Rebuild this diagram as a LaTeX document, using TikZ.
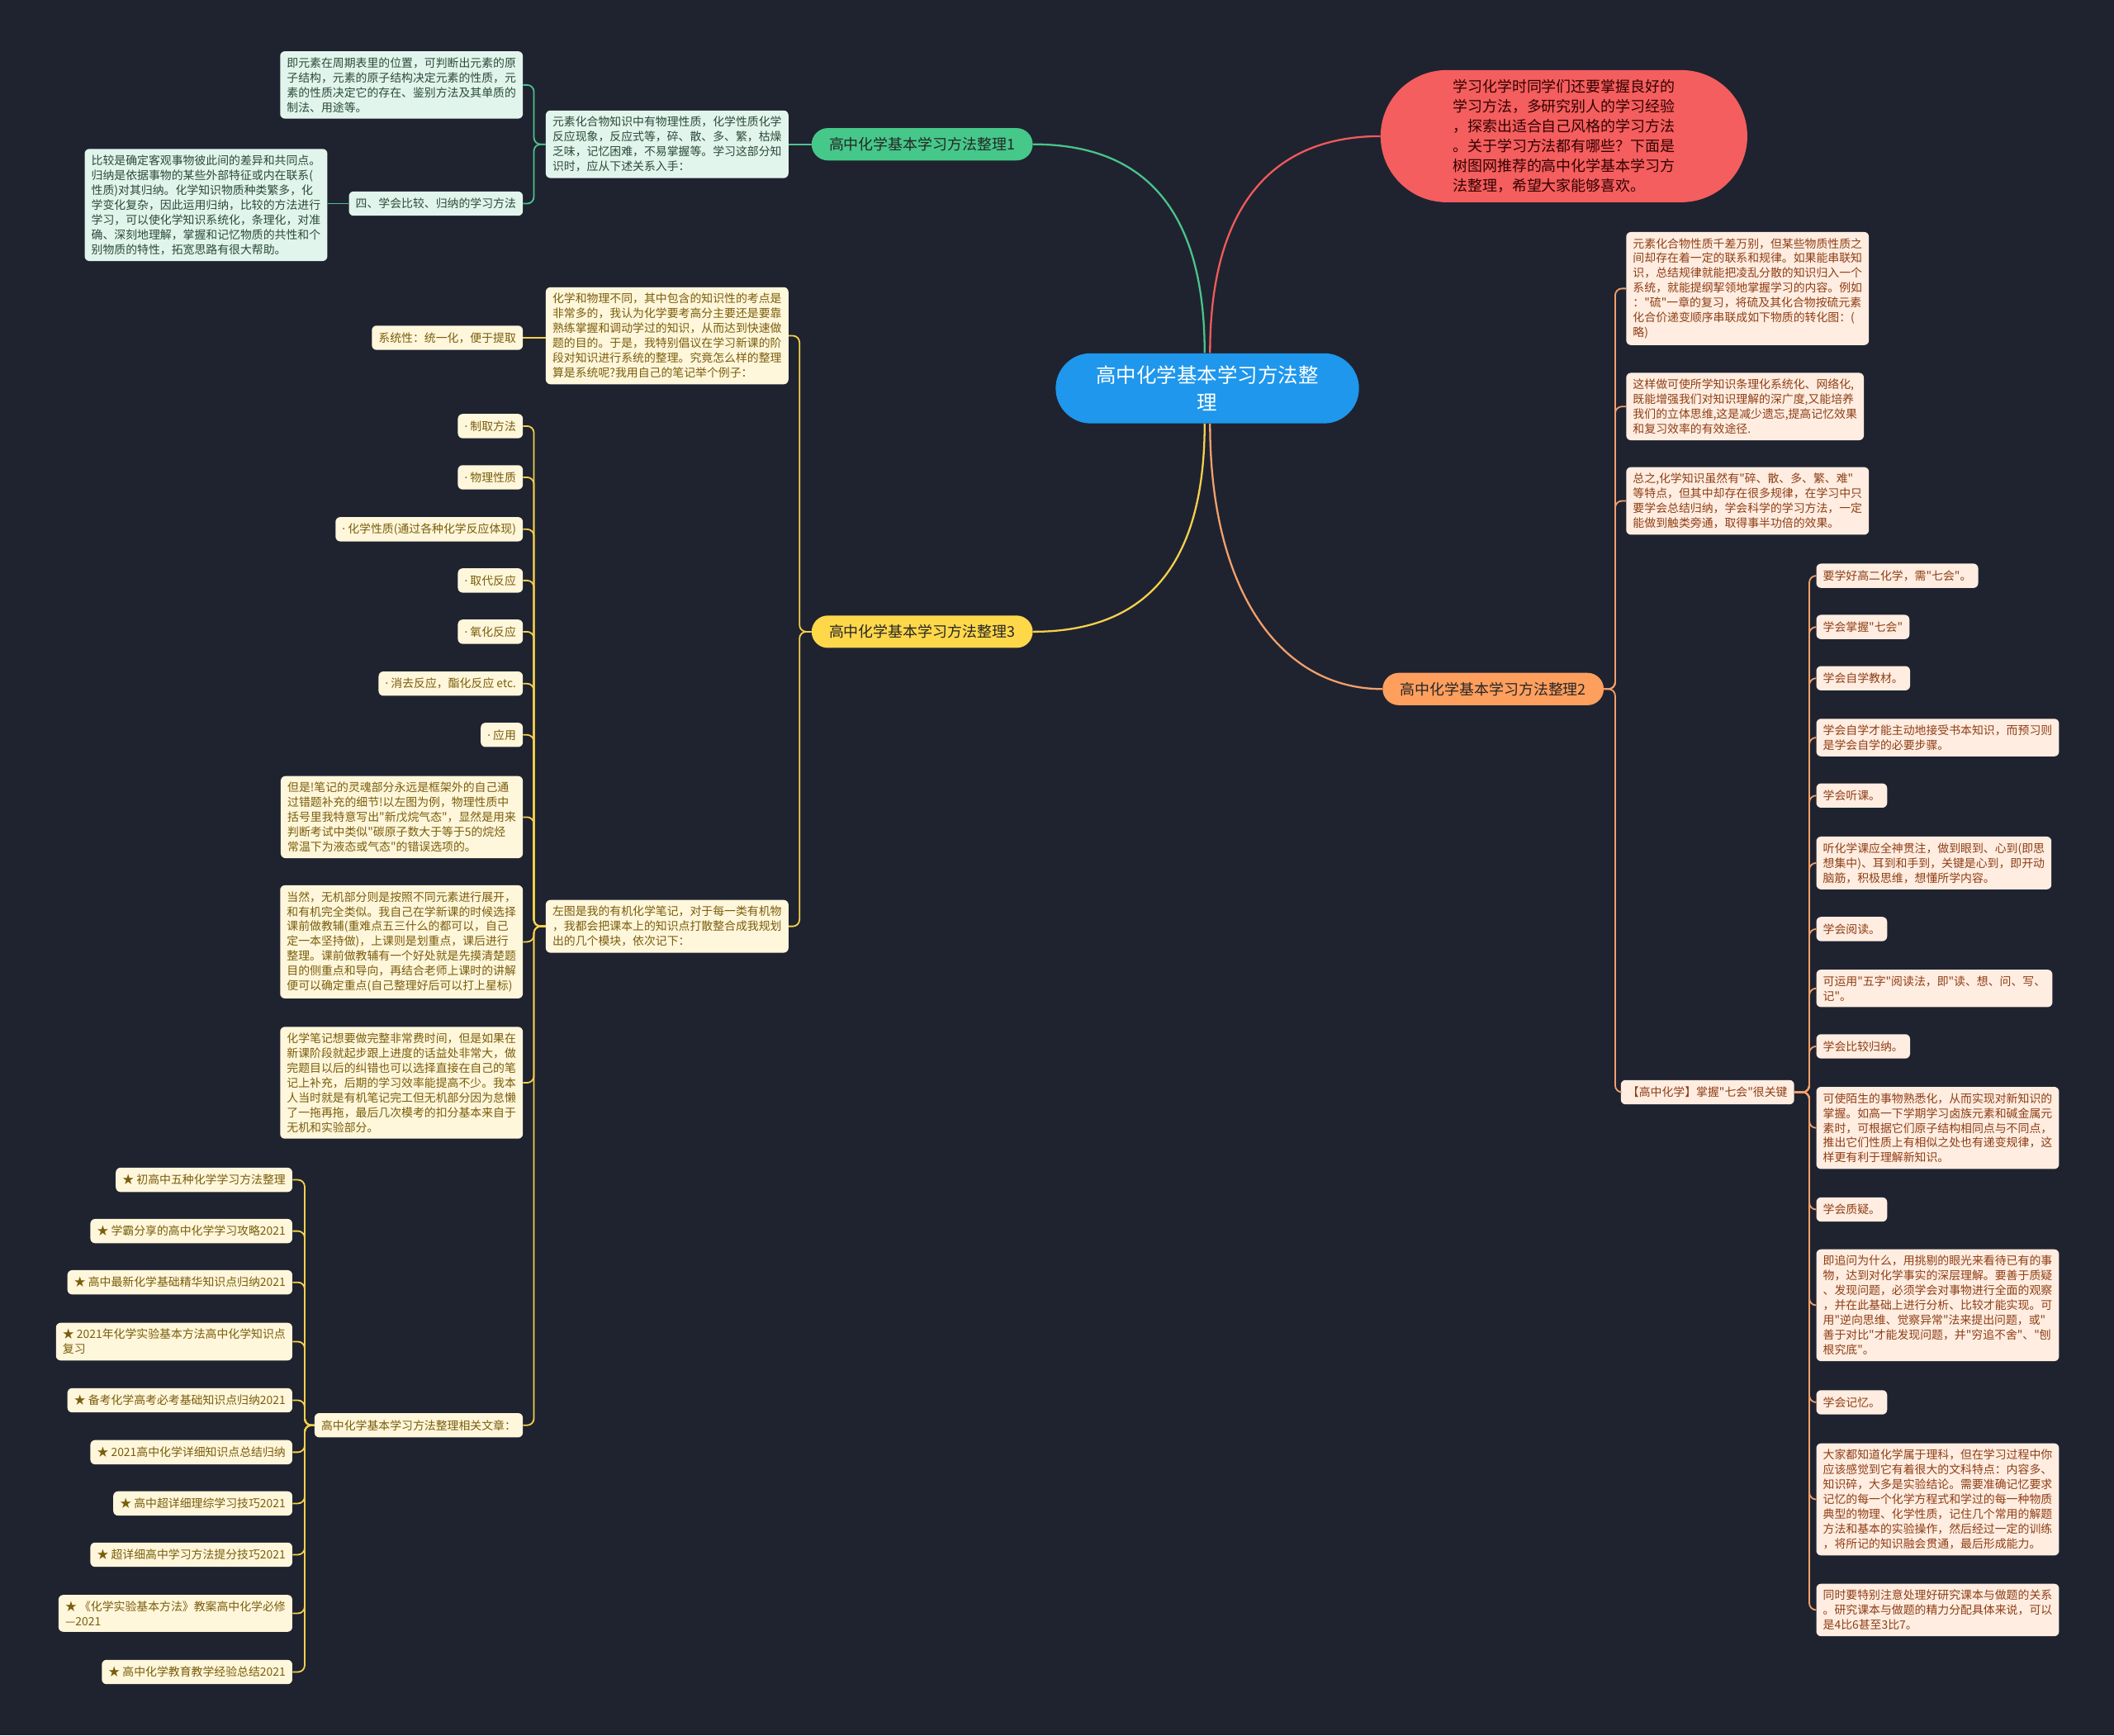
\documentclass[tikz,border=0pt]{standalone}
\usepackage{fontspec}
\setmainfont{Noto Sans CJK SC}[Ligatures=TeXOff]
\newfontfamily\dotfont{Noto Sans}
\newcommand{\mydot}{{\dotfont ·}}
\definecolor{bg}{HTML}{1F2330}
\definecolor{cblue}{HTML}{1E97EC}
\definecolor{cred}{HTML}{F45E5E}
\definecolor{gline}{HTML}{4BC38A}
\definecolor{gfill}{HTML}{45C88A}
\definecolor{gleaf}{HTML}{E2F5EC}
\definecolor{gtext}{HTML}{2B4A3B}
\definecolor{yline}{HTML}{F5D04C}
\definecolor{yfill}{HTML}{FFD84A}
\definecolor{yleaf}{HTML}{FFF7DB}
\definecolor{ytext}{HTML}{7A5D0C}
\definecolor{oline}{HTML}{F2A06A}
\definecolor{ofill}{HTML}{FF9F5E}
\definecolor{oleaf}{HTML}{FFEDE1}
\definecolor{otext}{HTML}{8E3E15}
\definecolor{rline}{HTML}{F05A5A}
\tikzset{
  leaf/.style={rounded corners=3.5pt, inner xsep=5pt, inner ysep=4.5pt, align=left, minimum height=18pt, font=\fontsize{8.5}{11}\selectfont},
  gleafbox/.style={leaf, fill=gleaf, text=gtext},
  yleafbox/.style={leaf, fill=yleaf, text=ytext},
  oleafbox/.style={leaf, fill=oleaf, text=otext},
  branch/.style={rounded corners=12pt, minimum width=164pt, minimum height=24pt, inner sep=0pt, font=\fontsize{11}{13}\selectfont, text=black!85},
  gconn/.style={draw=gline, line width=1.1pt, rounded corners=5pt},
  yconn/.style={draw=yline, line width=1.1pt, rounded corners=5pt},
  oconn/.style={draw=oline, line width=1.1pt, rounded corners=5pt},
}
\begin{document}
\begin{tikzpicture}[x=1pt,y=-1pt]
\fill[bg] (0,0) rectangle (1568,1287);
\useasboundingbox (0,0) rectangle (1568,1287);

% spine coordinates
\coordinate (sA) at (396,0);
\coordinate (s3) at (593,0);
\coordinate (sD) at (396,0);
\coordinate (sR) at (226,0);
\coordinate (s2) at (1198,0);
\coordinate (sK) at (1342,0);

% center and intro
\node[fill=cblue, text=white, rounded corners=26pt, minimum width=225pt, minimum height=52pt, align=center, font=\fontsize{15}{20}\selectfont] (c) at (895.5,288) {高中化学基本学习方法整\\理};
\node[fill=cred, text=black!80!red, rounded corners=49pt, minimum width=272pt, minimum height=98pt, align=left, font=\fontsize{11}{14.8}\selectfont] (i) at (1160,101) {学习化学时同学们还要掌握良好的\\学习方法，多研究别人的学习经验\\，探索出适合自己风格的学习方法\\。关于学习方法都有哪些？下面是\\树图网推荐的高中化学基本学习方\\法整理，希望大家能够喜欢。};

% branches
\node[branch, fill=gfill] (b1) at (684,107) {高中化学基本学习方法整理1};
\node[branch, fill=yfill] (b3) at (684,468.5) {高中化学基本学习方法整理3};
\node[branch, fill=ofill] (b2) at (1107.5,511) {高中化学基本学习方法整理2};

\draw[gline, line width=1.4pt] ([xshift=-2pt]c.north) .. controls +(0,-115) and +(75,0) .. (b1.east);
\draw[rline, line width=1.4pt] ([xshift=2pt]c.north) .. controls +(0,-115) and +(-75,0) .. (i.west);
\draw[yline, line width=1.4pt] ([xshift=-2pt]c.south) .. controls +(0,115) and +(75,0) .. (b3.east);
\draw[oline, line width=1.4pt] ([xshift=2pt]c.south) .. controls +(0,125) and +(-75,0) .. (b2.west);

% ---------- branch 1 ----------
\node[gleafbox, anchor=east] (a) at (585,107) {元素化合物知识中有物理性质，化学性质化学\\反应现象，反应式等，碎、散、多、繁，枯燥\\乏味，记忆困难，不易掌握等。学习这部分知\\识时，应从下述关系入手：};
\node[gleafbox, anchor=east] (a1) at (388,63) {即元素在周期表里的位置，可判断出元素的原\\子结构，元素的原子结构决定元素的性质，元\\素的性质决定它的存在、鉴别方法及其单质的\\制法、用途等。};
\node[gleafbox, anchor=east] (a2) at (388,151) {四、学会比较、归纳的学习方法};
\node[gleafbox, anchor=east] (a2a) at (243,152) {比较是确定客观事物彼此间的差异和共同点。\\归纳是依据事物的某些外部特征或内在联系(\\性质)对其归纳。化学知识物质种类繁多，化\\学变化复杂，因此运用归纳，比较的方法进行\\学习，可以使化学知识系统化，条理化，对准\\确、深刻地理解，掌握和记忆物质的共性和个\\别物质的特性，拓宽思路有很大帮助。};
\draw[gconn] (b1.west) -- (a.east);
\foreach \n in {a1,a2} \draw[gconn] (a.west) -- (a.west -| sA) |- (\n.east);
\draw[gconn] (a2.west) -- (a2.west -| a2a.east);

% ---------- branch 3 ----------
\node[yleafbox, anchor=east] (cc) at (585,249) {化学和物理不同，其中包含的知识性的考点是\\非常多的，我认为化学要考高分主要还是要靠\\熟练掌握和调动学过的知识，从而达到快速做\\题的目的。于是，我特别倡议在学习新课的阶\\段对知识进行系统的整理。究竟怎么样的整理\\算是系统呢?我用自己的笔记举个例子：};
\node[yleafbox, anchor=east] (cc1) at (388,250.5) {系统性：统一化，便于提取};
\node[yleafbox, anchor=east] (d) at (585,687) {左图是我的有机化学笔记，对于每一类有机物\\，我都会把课本上的知识点打散整合成我规划\\出的几个模块，依次记下：};
\foreach \n in {cc,d} \draw[yconn] (b3.west) -- (b3.west -| s3) |- (\n.east);
\draw[yconn] (cc.west |- cc1.east) -- (cc1.east);

\node[yleafbox, anchor=east] (d1) at (388,316) {\mydot{} 制取方法};
\node[yleafbox, anchor=east] (d2) at (388,354) {\mydot{} 物理性质};
\node[yleafbox, anchor=east] (d3) at (388,392.5) {\mydot{} 化学性质(通过各种化学反应体现)};
\node[yleafbox, anchor=east] (d4) at (388,430.5) {\mydot{} 取代反应};
\node[yleafbox, anchor=east] (d5) at (388,468.5) {\mydot{} 氧化反应};
\node[yleafbox, anchor=east] (d6) at (388,507) {\mydot{} 消去反应，酯化反应 etc.};
\node[yleafbox, anchor=east] (d7) at (388,545) {\mydot{} 应用};
\node[yleafbox, anchor=east] (d8) at (388,606) {但是!笔记的灵魂部分永远是框架外的自己通\\过错题补充的细节!以左图为例，物理性质中\\括号里我特意写出"新戊烷气态"，显然是用来\\判断考试中类似"碳原子数大于等于5的烷烃\\常温下为液态或气态"的错误选项的。};
\node[yleafbox, anchor=east] (d9) at (388,698.5) {当然，无机部分则是按照不同元素进行展开，\\和有机完全类似。我自己在学新课的时候选择\\课前做教辅(重难点五三什么的都可以，自己\\定一本坚持做)，上课则是划重点，课后进行\\整理。课前做教辅有一个好处就是先摸清楚题\\目的侧重点和导向，再结合老师上课时的讲解\\便可以确定重点(自己整理好后可以打上星标)};
\node[yleafbox, anchor=east] (d10) at (388,803) {化学笔记想要做完整非常费时间，但是如果在\\新课阶段就起步跟上进度的话益处非常大，做\\完题目以后的纠错也可以选择直接在自己的笔\\记上补充，后期的学习效率能提高不少。我本\\人当时就是有机笔记完工但无机部分因为怠懒\\了一拖再拖，最后几次模考的扣分基本来自于\\无机和实验部分。};
\node[yleafbox, anchor=east] (r) at (388,1057) {高中化学基本学习方法整理相关文章：};
\foreach \n in {d1,d2,d3,d4,d5,d6,d7,d8,d9,d10,r} \draw[yconn] (d.west) -- (d.west -| sD) |- (\n.east);

\node[yleafbox, anchor=east] (r1) at (217,875) {★ 初高中五种化学学习方法整理};
\node[yleafbox, anchor=east] (r2) at (217,913) {★ 学霸分享的高中化学学习攻略2021};
\node[yleafbox, anchor=east] (r3) at (217,951) {★ 高中最新化学基础精华知识点归纳2021};
\node[yleafbox, anchor=east] (r4) at (217,995) {★ 2021年化学实验基本方法高中化学知识点\\复习};
\node[yleafbox, anchor=east] (r5) at (217,1038.5) {★ 备考化学高考必考基础知识点归纳2021};
\node[yleafbox, anchor=east] (r6) at (217,1077) {★ 2021高中化学详细知识点总结归纳};
\node[yleafbox, anchor=east] (r7) at (217,1115) {★ 高中超详细理综学习技巧2021};
\node[yleafbox, anchor=east] (r8) at (217,1153) {★ 超详细高中学习方法提分技巧2021};
\node[yleafbox, anchor=east] (r9) at (217,1196.5) {★ 《化学实验基本方法》教案高中化学必修\\—2021};
\node[yleafbox, anchor=east] (r10) at (217,1240) {★ 高中化学教育教学经验总结2021};
\foreach \n in {r1,r2,r3,r4,r5,r6,r7,r8,r9,r10} \draw[yconn] (r.west) -- (r.west -| sR) |- (\n.east);

% ---------- branch 2 ----------
\node[oleafbox, anchor=west] (e1) at (1206,214) {元素化合物性质千差万别，但某些物质性质之\\间却存在着一定的联系和规律。如果能串联知\\识，总结规律就能把凌乱分散的知识归入一个\\系统，就能提纲挈领地掌握学习的内容。例如\\："硫"一章的复习，将硫及其化合物按硫元素\\化合价递变顺序串联成如下物质的转化图：(\\略)};
\node[oleafbox, anchor=west] (e2) at (1206,301.5) {这样做可使所学知识条理化系统化、网络化,\\既能增强我们对知识理解的深广度,又能培养\\我们的立体思维,这是减少遗忘,提高记忆效果\\和复习效率的有效途径.};
\node[oleafbox, anchor=west] (e3) at (1206,371.5) {总之,化学知识虽然有"碎、散、多、繁、难"\\等特点，但其中却存在很多规律，在学习中只\\要学会总结归纳，学会科学的学习方法，一定\\能做到触类旁通，取得事半功倍的效果。};
\node[oleafbox, anchor=west] (k) at (1202,810) {【高中化学】掌握"七会"很关键};
\foreach \n in {e1,e2,e3,k} \draw[oconn] (b2.east) -- (b2.east -| s2) |- (\n.west);

\node[oleafbox, anchor=west] (k1) at (1347,427) {要学好高二化学，需"七会"。};
\node[oleafbox, anchor=west] (k2) at (1347,465) {学会掌握"七会"};
\node[oleafbox, anchor=west] (k3) at (1347,503) {学会自学教材。};
\node[oleafbox, anchor=west] (k4) at (1347,547) {学会自学才能主动地接受书本知识，而预习则\\是学会自学的必要步骤。};
\node[oleafbox, anchor=west] (k5) at (1347,590) {学会听课。};
\node[oleafbox, anchor=west] (k6) at (1347,640) {听化学课应全神贯注，做到眼到、心到(即思\\想集中)、耳到和手到，关键是心到，即开动\\脑筋，积极思维，想懂所学内容。};
\node[oleafbox, anchor=west] (k7) at (1347,689) {学会阅读。};
\node[oleafbox, anchor=west] (k8) at (1347,733) {可运用"五字"阅读法，即"读、想、问、写、\\记"。};
\node[oleafbox, anchor=west] (k9) at (1347,776) {学会比较归纳。};
\node[oleafbox, anchor=west] (k10) at (1347,836.5) {可使陌生的事物熟悉化，从而实现对新知识的\\掌握。如高一下学期学习卤族元素和碱金属元\\素时，可根据它们原子结构相同点与不同点，\\推出它们性质上有相似之处也有递变规律，这\\样更有利于理解新知识。};
\node[oleafbox, anchor=west] (k11) at (1347,897) {学会质疑。};
\node[oleafbox, anchor=west] (k12) at (1347,968) {即追问为什么，用挑剔的眼光来看待已有的事\\物，达到对化学事实的深层理解。要善于质疑\\、发现问题，必须学会对事物进行全面的观察\\，并在此基础上进行分析、比较才能实现。可\\用"逆向思维、觉察异常"法来提出问题，或"\\善于对比"才能发现问题，并"穷追不舍"、"刨\\根究底"。};
\node[oleafbox, anchor=west] (k13) at (1347,1040) {学会记忆。};
\node[oleafbox, anchor=west] (k14) at (1347,1112) {大家都知道化学属于理科，但在学习过程中你\\应该感觉到它有着很大的文科特点：内容多、\\知识碎，大多是实验结论。需要准确记忆要求\\记忆的每一个化学方程式和学过的每一种物质\\典型的物理、化学性质，记住几个常用的解题\\方法和基本的实验操作，然后经过一定的训练\\，将所记的知识融会贯通，最后形成能力。};
\node[oleafbox, anchor=west] (k15) at (1347,1194) {同时要特别注意处理好研究课本与做题的关系\\。研究课本与做题的精力分配具体来说，可以\\是4比6甚至3比7。};
\foreach \n in {k1,k2,k3,k4,k5,k6,k7,k8,k9,k10,k11,k12,k13,k14,k15} \draw[oconn] (k.east) -- (k.east -| sK) |- (\n.west);
\end{tikzpicture}
\end{document}
